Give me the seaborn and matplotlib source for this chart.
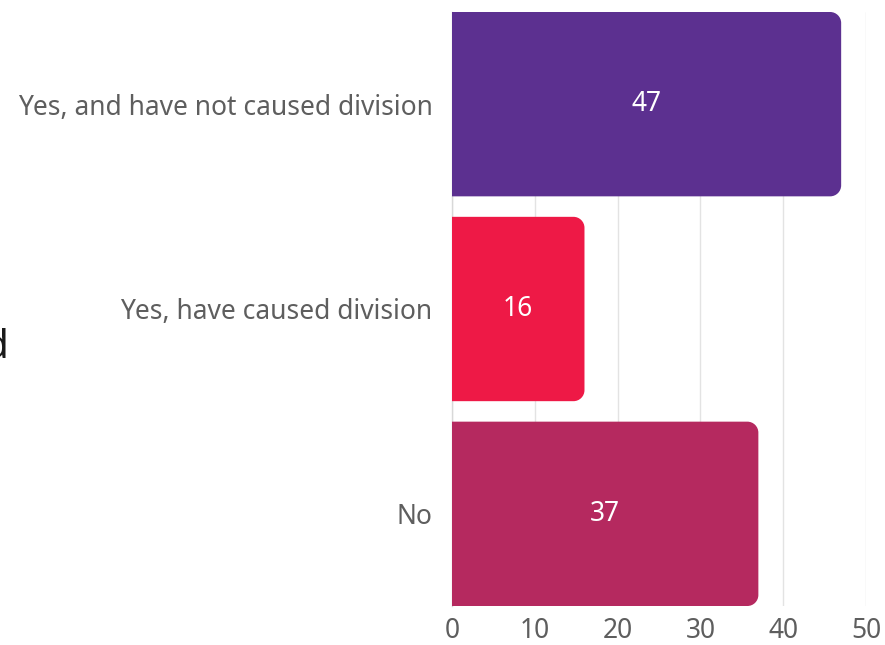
import matplotlib
matplotlib.use("Agg")
import matplotlib.pyplot as plt
from matplotlib.path import Path
from matplotlib.patches import PathPatch
import seaborn as sns
import pandas as pd

categories = ["Yes, and have not caused division", "Yes, have caused division", "No"]
values = [47, 16, 37]
colors = ["#5c3090", "#ee1946", "#b5295f"]
x_ticks = [0, 10, 20, 30, 40, 50]

sns.set_theme(style="white")
plt.rcParams["font.family"] = ["Noto Sans", "DejaVu Sans"]

df = pd.DataFrame({"category": categories, "value": values})

fig = plt.figure(figsize=(8.85, 6.45), dpi=100)
fig.patch.set_facecolor("white")
ax = fig.add_axes([452 / 885, 1 - 606 / 645, (866 - 452) / 885, (606 - 12) / 645])

sns.barplot(data=df, y="category", x="value", hue="category", palette=colors,
            saturation=1, width=0.9, orient="h", legend=False, ax=ax, zorder=3)

ax.set_xlim(0, 50)
ax.set_ylim(2.45, -0.45)
ax.set_xticks(x_ticks)
ax.set_xticklabels([str(t) for t in x_ticks])
ax.xaxis.grid(True, color="#e3e3e3", linewidth=1.0, zorder=0)
ax.yaxis.grid(False)
for side in ["top", "right", "bottom"]:
    ax.spines[side].set_visible(False)
ax.spines["left"].set_color("#d8d8d8")
ax.spines["left"].set_linewidth(1.0)
ax.set_xlabel("")
ax.set_ylabel("")
ax.tick_params(axis="x", length=0, pad=8, labelsize=19, labelcolor="#5e5e5e")
ax.tick_params(axis="y", length=0, pad=14, labelsize=19, labelcolor="#5e5e5e")


def right_rounded(x0, y0, w, h, rx, ry):
    # rectangle whose right-hand corners are rounded
    k = 0.5523
    verts = [
        (x0, y0), (x0 + w - rx, y0),
        (x0 + w - rx + k * rx, y0), (x0 + w, y0 + ry - k * ry), (x0 + w, y0 + ry),
        (x0 + w, y0 + h - ry),
        (x0 + w, y0 + h - ry + k * ry), (x0 + w - rx + k * rx, y0 + h), (x0 + w - rx, y0 + h),
        (x0, y0 + h), (x0, y0),
    ]
    codes = [Path.MOVETO, Path.LINETO,
             Path.CURVE4, Path.CURVE4, Path.CURVE4,
             Path.LINETO,
             Path.CURVE4, Path.CURVE4, Path.CURVE4,
             Path.LINETO, Path.CLOSEPOLY]
    return Path(verts, codes)


# pixel-to-data scale for corner radius
fig.canvas.draw()
bbox = ax.get_window_extent()
px_x = 50 / bbox.width
px_y = 2.9 / bbox.height
radius_px = 11

for patch in list(ax.patches):
    x0, y0 = patch.get_x(), patch.get_y()
    w, h = patch.get_width(), patch.get_height()
    fc = patch.get_facecolor()
    patch.set_visible(False)
    path = right_rounded(x0, y0, w, h, radius_px * px_x, radius_px * px_y)
    ax.add_patch(PathPatch(path, facecolor=fc, edgecolor="none", zorder=3))

for i, v in enumerate(values):
    ax.text(v / 2, i, str(v), ha="center", va="center", color="white",
            fontsize=19, zorder=4)

# title running off the left edge of the canvas
fig.text(9 / 885, 1 - 348 / 645, "Divided", ha="right", va="center",
         fontsize=29, color="#1a1a1a")

fig.savefig("out.png", dpi=100, facecolor="white")
